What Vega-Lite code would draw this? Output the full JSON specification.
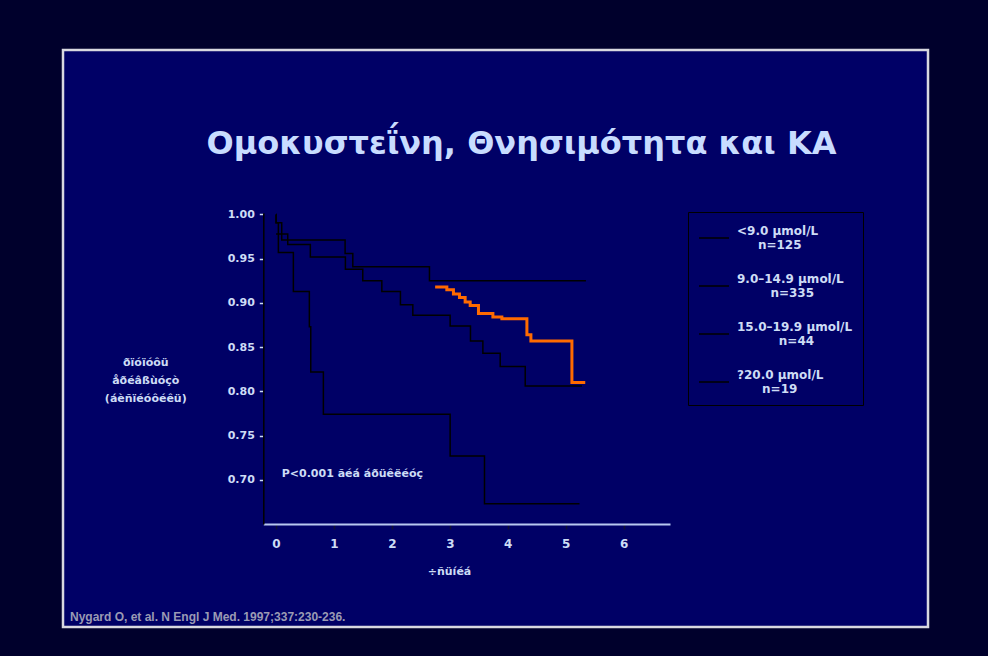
{
  "$schema": "https://vega.github.io/schema/vega-lite/v6.json",
  "width": 865,
  "height": 577,
  "autosize": {"type": "none"},
  "padding": {"left": 63, "top": 50, "right": 60, "bottom": 29},
  "background": "#00002c",
  "view": {"fill": "#000066", "stroke": "#d8d8e0", "strokeWidth": 2.5},
  "title": {
    "text": "Ομοκυστεΐνη, Θνησιμότητα και ΚΑ",
    "font": "DejaVu Sans", "fontSize": 32, "fontWeight": "bold", "color": "#c8dcff",
    "anchor": "middle", "frame": "group", "orient": "top", "baseline": "alphabetic",
    "offset": 0, "dx": 26, "dy": 136
  },
  "datasets": {
    "km": [
      {"g": "<9.0 μmol/L", "t": 0, "s": 1.0},
      {"g": "<9.0 μmol/L", "t": 0.001, "s": 0.9905},
      {"g": "<9.0 μmol/L", "t": 0.098, "s": 0.971},
      {"g": "<9.0 μmol/L", "t": 1.192, "s": 0.956},
      {"g": "<9.0 μmol/L", "t": 1.325, "s": 0.941},
      {"g": "<9.0 μmol/L", "t": 2.648, "s": 0.925},
      {"g": "<9.0 μmol/L", "t": 5.349, "s": 0.925},
      {"g": "9.0–14.9 μmol/L", "t": 0, "s": 0.978},
      {"g": "9.0–14.9 μmol/L", "t": 0.202, "s": 0.966},
      {"g": "9.0–14.9 μmol/L", "t": 0.592, "s": 0.952},
      {"g": "9.0–14.9 μmol/L", "t": 1.197, "s": 0.938},
      {"g": "9.0–14.9 μmol/L", "t": 1.497, "s": 0.925},
      {"g": "9.0–14.9 μmol/L", "t": 1.826, "s": 0.913},
      {"g": "9.0–14.9 μmol/L", "t": 2.147, "s": 0.898},
      {"g": "9.0–14.9 μmol/L", "t": 2.361, "s": 0.886},
      {"g": "9.0–14.9 μmol/L", "t": 3.005, "s": 0.874},
      {"g": "9.0–14.9 μmol/L", "t": 3.356, "s": 0.857},
      {"g": "9.0–14.9 μmol/L", "t": 3.570, "s": 0.843},
      {"g": "9.0–14.9 μmol/L", "t": 3.869, "s": 0.828},
      {"g": "9.0–14.9 μmol/L", "t": 4.301, "s": 0.806},
      {"g": "9.0–14.9 μmol/L", "t": 5.280, "s": 0.806},
      {"g": "15.0–19.9 μmol/L", "t": 2.746, "s": 0.918},
      {"g": "15.0–19.9 μmol/L", "t": 2.948, "s": 0.915},
      {"g": "15.0–19.9 μmol/L", "t": 3.062, "s": 0.910},
      {"g": "15.0–19.9 μmol/L", "t": 3.166, "s": 0.906},
      {"g": "15.0–19.9 μmol/L", "t": 3.264, "s": 0.901},
      {"g": "15.0–19.9 μmol/L", "t": 3.351, "s": 0.897},
      {"g": "15.0–19.9 μmol/L", "t": 3.494, "s": 0.888},
      {"g": "15.0–19.9 μmol/L", "t": 3.743, "s": 0.884},
      {"g": "15.0–19.9 μmol/L", "t": 3.898, "s": 0.882},
      {"g": "15.0–19.9 μmol/L", "t": 4.330, "s": 0.864},
      {"g": "15.0–19.9 μmol/L", "t": 4.399, "s": 0.857},
      {"g": "15.0–19.9 μmol/L", "t": 5.107, "s": 0.810},
      {"g": "15.0–19.9 μmol/L", "t": 5.337, "s": 0.810},
      {"g": "?20.0 μmol/L", "t": 0, "s": 1.0},
      {"g": "?20.0 μmol/L", "t": 0.001, "s": 0.9905},
      {"g": "?20.0 μmol/L", "t": 0.04, "s": 0.957},
      {"g": "?20.0 μmol/L", "t": 0.299, "s": 0.913},
      {"g": "?20.0 μmol/L", "t": 0.575, "s": 0.873},
      {"g": "?20.0 μmol/L", "t": 0.599, "s": 0.822},
      {"g": "?20.0 μmol/L", "t": 0.817, "s": 0.774},
      {"g": "?20.0 μmol/L", "t": 3.005, "s": 0.727},
      {"g": "?20.0 μmol/L", "t": 3.598, "s": 0.673},
      {"g": "?20.0 μmol/L", "t": 5.238, "s": 0.673}
    ]
  },
  "layer": [
    {
      "data": {"name": "km"},
      "transform": [{"filter": "datum.g !== '15.0–19.9 μmol/L'"}],
      "mark": {"type": "line", "interpolate": "step-after", "strokeWidth": 1.5},
      "encoding": {
        "x": {
          "field": "t", "type": "quantitative",
          "scale": {"domain": [-0.22, 6.8], "range": [200.3, 607], "nice": false, "zero": false},
          "axis": {
            "values": [0, 1, 2, 3, 4, 5, 6], "format": "d", "offset": -103, "grid": false,
            "title": "÷ñüíéá", "titleX": 386, "titleY": 50, "titleBaseline": "alphabetic", "titleAlign": "center",
            "titleFont": "DejaVu Sans", "titleFontSize": 11, "titleFontWeight": "bold", "titleColor": "#cddcf5",
            "domainColor": "#b8c8f0", "domainWidth": 2,
            "tickColor": "#101030", "tickSize": 5, "tickWidth": 1.5,
            "labelFont": "DejaVu Sans", "labelFontSize": 12, "labelFontWeight": "bold", "labelColor": "#cddcf5",
            "labelPadding": 9, "labelFlush": false
          }
        },
        "y": {
          "field": "s", "type": "quantitative",
          "scale": {"domain": [0.65, 1.002], "range": [474, 162.7], "nice": false, "zero": false},
          "axis": {
            "values": [0.7, 0.75, 0.8, 0.85, 0.9, 0.95, 1.0], "format": ".2f", "offset": -200.3, "grid": false,
            "title": ["ðïóïóôü", "åðéâßùóçò", "(áèñïéóôéêü)"],
            "titleAngle": 0, "titleAlign": "center", "titleBaseline": "top", "titleX": -118, "titleY": 306, "titleLineHeight": 18,
            "titleFont": "DejaVu Sans", "titleFontSize": 11, "titleFontWeight": "bold", "titleColor": "#cddcf5",
            "domainColor": "#000000", "domainWidth": 1.5,
            "tickColor": "#cddcf5", "tickSize": 4, "tickWidth": 1.5,
            "labelFont": "DejaVu Sans", "labelFontSize": 11, "labelFontWeight": "bold", "labelColor": "#cddcf5",
            "labelPadding": 5
          }
        },
        "color": {
          "field": "g", "type": "nominal",
          "scale": {
            "domain": ["<9.0 μmol/L", "9.0–14.9 μmol/L", "15.0–19.9 μmol/L", "?20.0 μmol/L"],
            "range": ["#000000", "#000000", "#000000", "#000000"]
          },
          "legend": {
            "orient": "none", "legendX": 625, "legendY": 162, "title": null,
            "padding": 10, "strokeColor": "#000000", "fillColor": null,
            "symbolType": "stroke", "symbolSize": 900, "symbolStrokeWidth": 1.5,
            "labelOffset": 7, "rowPadding": 19, "labelLimit": 300,
            "labelFont": "DejaVu Sans", "labelFontSize": 12, "labelFontWeight": "bold", "labelColor": "#cddcf5",
            "labelAlign": "left", "labelBaseline": "bottom",
            "labelExpr": "datum.value === '<9.0 μmol/L' ? ['<9.0 μmol/L', '\u200b\u00a0\u00a0\u00a0\u00a0\u00a0n=125'] : datum.value === '9.0–14.9 μmol/L' ? ['9.0–14.9 μmol/L', '\u200b\u00a0\u00a0\u00a0\u00a0\u00a0\u00a0\u00a0\u00a0n=335'] : datum.value === '15.0–19.9 μmol/L' ? ['15.0–19.9 μmol/L', '\u200b\u00a0\u00a0\u00a0\u00a0\u00a0\u00a0\u00a0\u00a0\u00a0\u00a0n=44'] : ['?20.0 μmol/L', '\u200b\u00a0\u00a0\u00a0\u00a0\u00a0\u00a0n=19']"
          }
        }
      }
    },
    {
      "data": {"name": "km"},
      "transform": [{"filter": "datum.g === '15.0–19.9 μmol/L'"}],
      "mark": {"type": "line", "interpolate": "step-after", "color": "#ff6a00", "strokeWidth": 3},
      "encoding": {
        "x": {"field": "t", "type": "quantitative"},
        "y": {"field": "s", "type": "quantitative"}
      }
    },
    {
      "data": {"values": [{"label": "P<0.001 ãéá áðüêëéóç"}]},
      "mark": {"type": "text", "align": "left", "baseline": "middle", "font": "DejaVu Sans", "fontSize": 11, "fontWeight": "bold", "color": "#cddcf5"},
      "encoding": {
        "x": {"datum": 0.098},
        "y": {"datum": 0.707},
        "text": {"field": "label"}
      }
    },
    {
      "data": {"values": [{"label": "Nygard O, et al. N Engl J Med. 1997;337:230-236."}]},
      "mark": {"type": "text", "align": "left", "baseline": "alphabetic", "font": "Liberation Sans", "fontSize": 12, "fontWeight": "bold", "color": "#9a9ab4"},
      "encoding": {
        "x": {"datum": -3.557},
        "y": {"datum": 0.54},
        "text": {"field": "label"}
      }
    }
  ]
}
